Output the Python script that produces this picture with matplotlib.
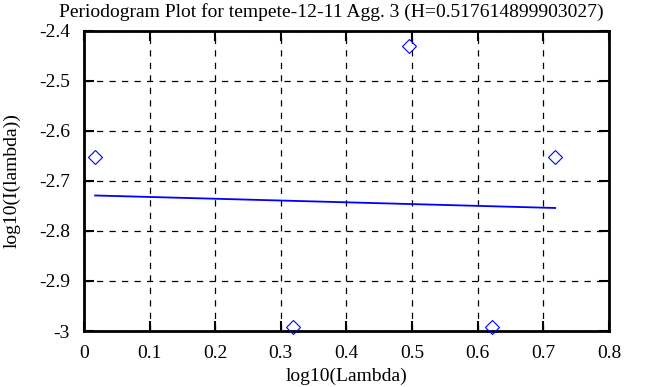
import matplotlib.pyplot as plt
import numpy as np

plt.rcParams['font.family'] = ['Liberation Serif', 'DejaVu Serif']

# periodogram points
log_lambda = [0.017, 0.319, 0.495, 0.621, 0.718]
log_i = [-2.652, -2.992, -2.431, -2.992, -2.652]

# fitted line
fit_x = [0.017, 0.718]
fit_y = [-2.729, -2.754]

fig = plt.figure(figsize=(6.68, 3.87), dpi=100)
ax = fig.add_axes([0.1257, 0.1447, 0.786, 0.7753])

ax.plot(log_lambda, log_i, linestyle='none', marker='D', markersize=7,
        markerfacecolor='none', markeredgecolor='blue', markeredgewidth=0.8,
        clip_on=False, zorder=3)
ax.plot(fit_x, fit_y, color='blue', linewidth=1.3, zorder=3)

ax.set_xlim(0, 0.8)
ax.set_ylim(-3, -2.4)
ax.set_xticks(np.arange(0, 0.81, 0.1))
ax.set_xticklabels(['0', '0.1', '0.2', '0.3', '0.4', '0.5', '0.6', '0.7', '0.8'])
ax.set_yticks(np.arange(-3, -2.39, 0.1))
ax.set_yticklabels(['-3', '-2.9', '-2.8', '-2.7', '-2.6', '-2.5', '-2.4'])
ax.grid(True, color='black', linestyle=(0, (5, 5)), linewidth=0.9)
ax.tick_params(direction='in', length=7, width=1.5, top=True, right=True,
               labelsize=14, colors='black', pad=10)
for s in ax.spines.values():
    s.set_linewidth(2)

ax.set_xlabel('log10(Lambda)', fontsize=14, labelpad=4)
ax.set_ylabel('log10(I(lambda))', fontsize=14, labelpad=13)
fig.text(0.496, 0.968, 'Periodogram Plot for tempete-12-11 Agg. 3 (H=0.517614899903027)',
         fontsize=14, ha='center', va='center')

plt.savefig('out.png', dpi=100)
plt.close()
